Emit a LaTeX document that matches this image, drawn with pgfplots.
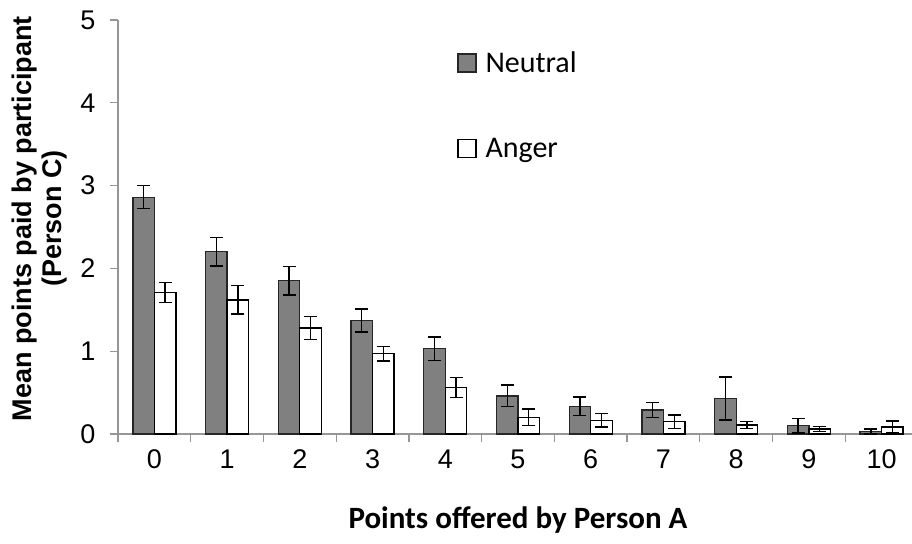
\documentclass[border=0pt]{standalone}
\usepackage{pgfplots}
\pgfplotsset{compat=1.18}
\usepackage{fontspec}
\setmainfont{Liberation Sans}
\newfontfamily\carlito{Carlito}
\definecolor{axgray}{RGB}{150,150,150}
\definecolor{neutralgray}{RGB}{128,128,128}
\begin{document}
\begin{tikzpicture}
\begin{axis}[
  scale only axis, width=800pt, height=414pt,
  xmin=-0.5, xmax=10.5, ymin=0, ymax=5,
  axis x line*=bottom, axis y line*=left,
  axis line style={-, draw=axgray, line width=1.2pt},
  ybar=0pt, bar width=21.5pt,
  xtick={-0.5,0.5,...,10.5}, xticklabels={},
  extra x ticks={0,1,...,10},
  extra x tick labels={0,1,2,3,4,5,6,7,8,9,10},
  extra x tick style={major tick length=0pt},
  ytick={0,1,...,5},
  tick align=outside, major tick length=8pt,
  tick style={axgray, line width=1.2pt},
  ticklabel style={font=\fontsize{27}{30}\selectfont},
  /pgf/number format/assume math mode=true,
  xticklabel style={yshift=-12pt},
  yticklabel style={xshift=-11pt},
  xlabel={Points offered by Person A},
  xlabel style={font=\carlito\bfseries\fontsize{31}{34}\selectfont, at={([yshift=-86pt]rel axis cs:0.5,0)}, anchor=center},
  ylabel={Mean points paid by participant\\(Person C)},
  ylabel style={font=\bfseries\fontsize{27}{30}\selectfont, align=center, at={([xshift=-78pt]rel axis cs:0,0.52)}, anchor=center},
  legend style={draw=none, fill=none, at={(rel axis cs:0.42,0.933)}, anchor=north west,
    font=\carlito\fontsize{30}{34}\selectfont, row sep=60pt,
    nodes={inner sep=2pt}},
  legend cell align=left,
  legend image code/.code={\draw[#1, line width=1.3pt] (0pt,-9pt) rectangle (18pt,9pt); \path (25pt,0pt);},
  error bars/y dir=both, error bars/y explicit,
  error bars/error bar style={black, line width=1.4pt},
  error bars/error mark options={black, line width=1.4pt, mark size=6.5pt, rotate=90},
]
\addplot[fill=neutralgray, draw=black!85, line width=1.3pt] coordinates {
  (0,2.86) +- (0,0.14)
  (1,2.20) +- (0,0.17)
  (2,1.85) +- (0,0.17)
  (3,1.37) +- (0,0.14)
  (4,1.03) +- (0,0.14)
  (5,0.46) +- (0,0.13)
  (6,0.335) +- (0,0.11)
  (7,0.29) +- (0,0.09)
  (8,0.43) +- (0,0.26)
  (9,0.10) +- (0,0.09)
  (10,0.03) +- (0,0.03)
};
\addlegendentry{Neutral}
\addplot[fill=white, draw=black, line width=1.3pt] coordinates {
  (0,1.71) +- (0,0.12)
  (1,1.62) +- (0,0.17)
  (2,1.28) +- (0,0.14)
  (3,0.97) +- (0,0.09)
  (4,0.56) +- (0,0.12)
  (5,0.20) +- (0,0.10)
  (6,0.166) +- (0,0.08)
  (7,0.15) +- (0,0.08)
  (8,0.11) +- (0,0.04)
  (9,0.06) +- (0,0.03)
  (10,0.085) +- (0,0.07)
};
\addlegendentry{Anger}
\end{axis}
\pgfresetboundingbox
\path[use as bounding box] (-118pt,-109pt) rectangle (794pt,434pt);
\end{tikzpicture}
\end{document}
